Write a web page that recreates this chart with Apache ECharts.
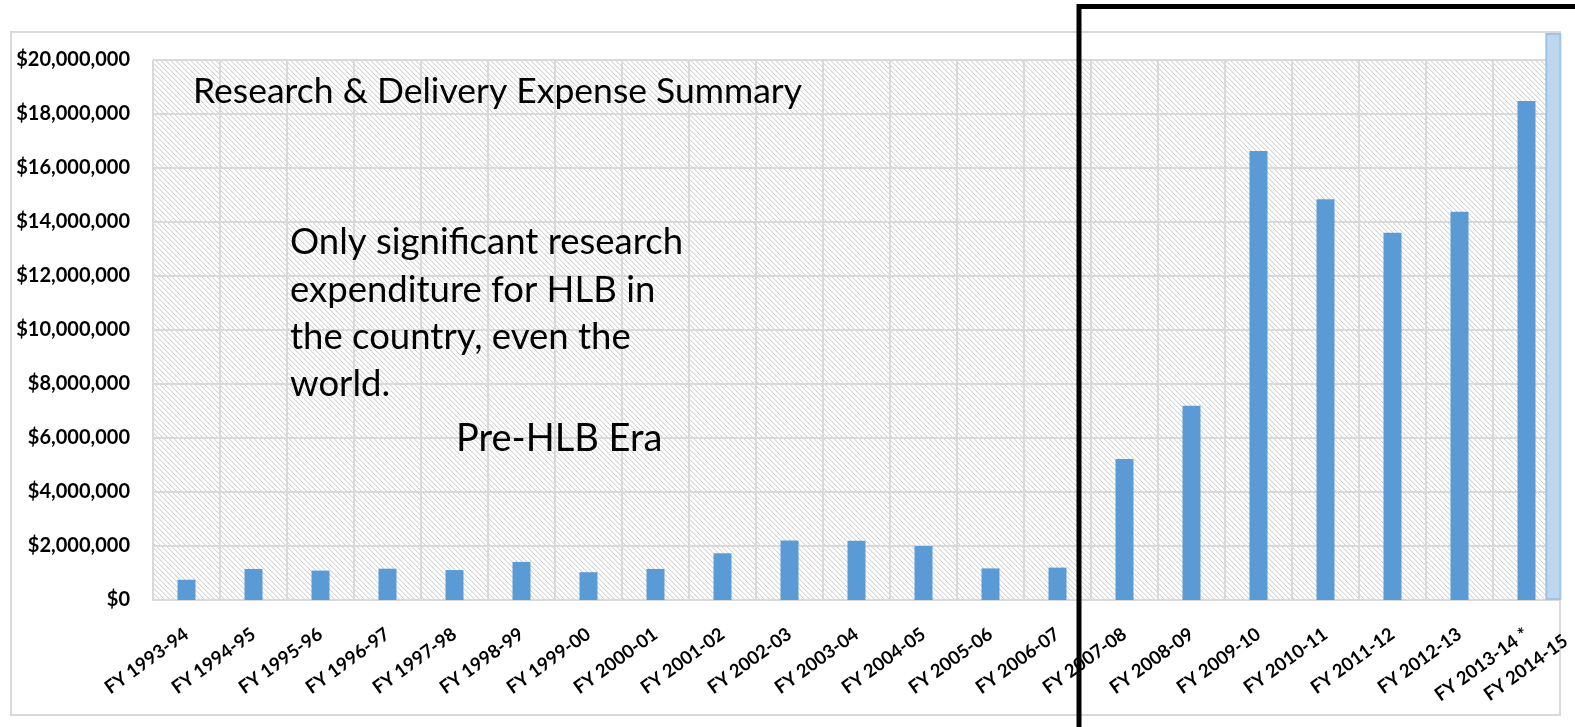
<!DOCTYPE html>
<html>
<head>
<meta charset="utf-8">
<script src="https://cdn.jsdelivr.net/npm/echarts@6/dist/echarts.min.js"></script>
<style>
html,body{margin:0;padding:0;background:#fff;}
#chart{width:1575px;height:727px;}
</style>
</head>
<body>
<div id="chart"></div>
<script>
// ---- data ----
const categories = ['FY 1993-94','FY 1994-95','FY 1995-96','FY 1996-97','FY 1997-98','FY 1998-99','FY 1999-00','FY 2000-01','FY 2001-02','FY 2002-03','FY 2003-04','FY 2004-05','FY 2005-06','FY 2006-07','FY 2007-08','FY 2008-09','FY 2009-10','FY 2010-11','FY 2011-12','FY 2012-13','FY 2013-14 *'];
const expenses = [750000,1150000,1090000,1160000,1110000,1410000,1030000,1150000,1730000,2200000,2190000,2000000,1170000,1200000,5220000,7190000,16630000,14840000,13600000,14380000,18480000];
const projectedLabel = 'FY 2014-15';
const projectedValue = 21000000;
const projectedSlot = 20.9;
const yMin = 0, yMax = 20000000, yStep = 2000000;
const titleText = 'Research & Delivery Expense Summary';
const noteLines = ['Only significant research','expenditure for HLB in','the country, even the','world.'];
const eraText = 'Pre-HLB Era';

// hatch pattern
const pc = document.createElement('canvas');
const P = 5;
pc.width = P; pc.height = P;
const pctx = pc.getContext('2d');
const img = pctx.createImageData(P, P);
for (let y = 0; y < P; y++) for (let x = 0; x < P; x++) {
  const d = ((x - y) % P + P) % P;
  let v = 255;
  if (d === 0) v = 214; else if (d === 1) v = 238;
  const i = (y * P + x) * 4;
  img.data[i] = v; img.data[i+1] = v; img.data[i+2] = v; img.data[i+3] = 255;
}
pctx.putImageData(img, 0, 0);

function money(v){
  const s = String(Math.round(v)).replace(/\B(?=(\d{3})+(?!\d))/g, ',');
  return '$' + s;
}

const chart = echarts.init(document.getElementById('chart'), null, {renderer:'canvas'});
const FONT = 'Lato';
chart.setOption({
  animation:false,
  backgroundColor:'#fff',
  grid:{left:153, top:60, right:15, bottom:127, show:true, borderWidth:0,
        backgroundColor:{image:pc, repeat:'repeat'}},
  xAxis:[{
    type:'category', data:categories, boundaryGap:true,
    axisLine:{show:true, lineStyle:{color:'#d9d9d9', width:2}},
    axisTick:{show:false},
    splitLine:{show:true, interval:0, lineStyle:{color:'#d9d9d9', width:2}},
    axisLabel:{interval:0, rotate:36, margin:32, color:'#000', fontFamily:FONT, fontWeight:'bold', fontSize:18.5}
  },{
    type:'value', min:0, max:categories.length, show:false
  }],
  yAxis:{
    type:'value', min:yMin, max:yMax, interval:yStep,
    axisLine:{show:false}, axisTick:{show:false},
    splitLine:{show:true, lineStyle:{color:'#d9d9d9', width:2}},
    axisLabel:{margin:23, color:'#000', fontFamily:FONT, fontWeight:'bold', fontSize:20, formatter:money}
  },
  series:[{
    type:'bar', data:expenses, barWidth:18, xAxisIndex:0,
    itemStyle:{color:'#5b9bd5'}
  },{
    type:'bar', xAxisIndex:1, data:[[projectedSlot, projectedValue]], barWidth:16, clip:false, z:5,
    itemStyle:{color:'#bdd7ee', borderColor:'#9dc3e6', borderWidth:2},
    label:{show:true, position:'bottom', distance:40, rotate:36, align:'right', verticalAlign:'middle',
           offset:[10.7,6.5], formatter:function(){return projectedLabel;},
           color:'#000', fontFamily:FONT, fontWeight:'bold', fontSize:18.5}
  }],
  graphic:[
    {type:'rect', z:-1, shape:{x:11, y:32, width:1549, height:683}, style:{fill:null, stroke:'#d9d9d9', lineWidth:2}, silent:true},
    {type:'text', z:10, x:193, y:74, style:{text:titleText, font:'35.5px Lato', fill:'#000', verticalAlign:'top'}},
    {type:'text', z:10, x:290, y:219, style:{text:noteLines.join('\n'), font:'36.5px Lato', lineHeight:47.3, fill:'#000', verticalAlign:'top'}},
    {type:'text', z:10, x:456, y:420, style:{text:eraText, font:'38px Lato', fill:'#000', verticalAlign:'top'}},
    {type:'polyline', z:20, shape:{points:[[1079,727],[1079,6.5],[1575,6.5]]}, style:{stroke:'#000', lineWidth:5, fill:null}, silent:true}
  ]
});
</script>
</body>
</html>
